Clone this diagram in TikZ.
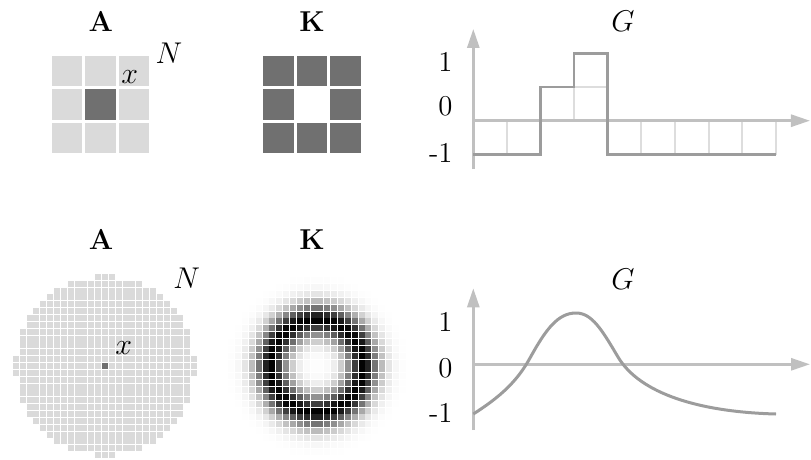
\documentclass[tikz,border=0pt]{standalone}
\usetikzlibrary{arrows.meta}
\definecolor{claro}{HTML}{DADADA}
\definecolor{oscuro}{HTML}{707070}
\definecolor{ejegris}{HTML}{C0C0C0}
\definecolor{trazo}{HTML}{9C9C9C}
\definecolor{rejillagris}{HTML}{DDDDDD}

\begin{document}
\begin{tikzpicture}[x=0.4pt, y=-0.4pt, font=\fontsize{11.5}{14}\selectfont,
			eje/.style={-{Triangle[length=7.6pt, width=4.8pt]}, draw=ejegris, line width=1.1pt},
			escalon/.style={draw=trazo, line width=1.1pt},
			rejilla/.style={draw=rejillagris, line width=0.8pt},
			curva/.style={draw=trazo, line width=1.2pt},
			marca/.style={anchor=east, inner sep=0pt}]
			\useasboundingbox (0,0) rectangle (811,459);
			% fila de arriba
			\node (tA1) at (100.8,21) {\textbf{A}};
			\node (tK1) at (312,22) {\textbf{K}};
			\node (tG1) at (623,21.7) {$G$};
			\node (N1) at (169,53) {$N$};
			\foreach \i in {-1,0,1}
				\foreach \j in {-1,0,1}
					\fill[claro] ({100.5+33.6*\j-15.25},{104.5+33.6*\i-15.25}) rectangle ++(30.5,30.5);
			\fill[oscuro] (85.25,89.25) rectangle ++(30.5,30.5);
			\node (x1) at (129.7,76.7) {$x$};
			\foreach \i/\j in {-1/-1,-1/0,-1/1,0/-1,0/1,1/-1,1/0,1/1}
				\fill[oscuro] ({312+33.6*\j-15.25},{104.5+33.6*\i-15.25}) rectangle ++(30.5,30.5);
			\begin{scope}[shift={(473.3,120.7)}, x=13.44pt, y=13.44pt]
				\foreach \c in {0,1,4,5,6,7,8}
					\draw[rejilla] (\c,0) rectangle ++(1,-1);
				\draw[rejilla] (2,0) rectangle (3,1);
				\draw[rejilla] (3,0) rectangle (4,1);
				\draw[rejilla] (3,1) rectangle (4,2);
				\draw[eje] (0,-1.44) -- (0,2.73);
				\draw[eje] (0,0) -- (10.02,0);
				\draw[escalon] (0,-1) -| (2,1) -| (3,2) -| (4,-1) -- (9,-1);
			\end{scope}
			\node[marca] (m1a) at (453,61.7) {1};
			\node[marca] (m0a) at (453,106) {0};
			\node[marca] (m-1a) at (453,152.7) {-1};
			% fila de abajo
			\node (tA2) at (101,239.3) {\textbf{A}};
			\node (tK2) at (312,240) {\textbf{K}};
			\node (tG2) at (623,279.3) {$G$};
			\node (N2) at (186.7,278.3) {$N$};
			\foreach \i in {-13,...,13}
				\foreach \j in {-13,...,13} {
					\pgfmathtruncatemacro{\dd}{\i*\i+\j*\j}
					\ifnum\dd<171
						\fill[claro] ({105+6.86*\j-3},{366+6.86*\i-3}) rectangle ++(6,6);
					\fi
				}
			\fill[oscuro] (102,363) rectangle ++(6,6);
			\node (x2) at (123.7,348.3) {$x$};
			\foreach \i in {-13,...,12}
				\foreach \j in {-13,...,12} {
					\pgfmathsetmacro{\rr}{sqrt((\i+0.5)*(\i+0.5)+(\j+0.5)*(\j+0.5))}
					\pgfmathtruncatemacro{\dentro}{\rr<13.1 ? 1 : 0}
					\ifnum\dentro=1
						\pgfmathsetmacro{\nivel}{min(99.5,100*exp(-(abs(\rr-6.7)/2.4+0.001)^1.8))}
						\fill[black!\nivel!white] ({317+6.86*(\j+0.5)-3},{366+6.86*(\i+0.5)-3}) rectangle ++(6,6);
					\fi
				}
			\draw[eje] (473.3,430) -- (473.3,288.3);
			\draw[eje] (473.3,364.3) -- (810,364.3);
			\draw[curva] (473.3,414) .. controls (500,397) and (517,381.6) .. (530,358)
				.. controls (546,329) and (558,313) .. (576,313)
				.. controls (592,313) and (602,330) .. (618,357)
				.. controls (640,394) and (700,412) .. (776,414);
			\node[marca] (m1b) at (453,321.7) {1};
			\node[marca] (m0b) at (453,368.3) {0};
			\node[marca] (m-1b) at (453,413.3) {-1};
		\end{tikzpicture}
\end{document}
